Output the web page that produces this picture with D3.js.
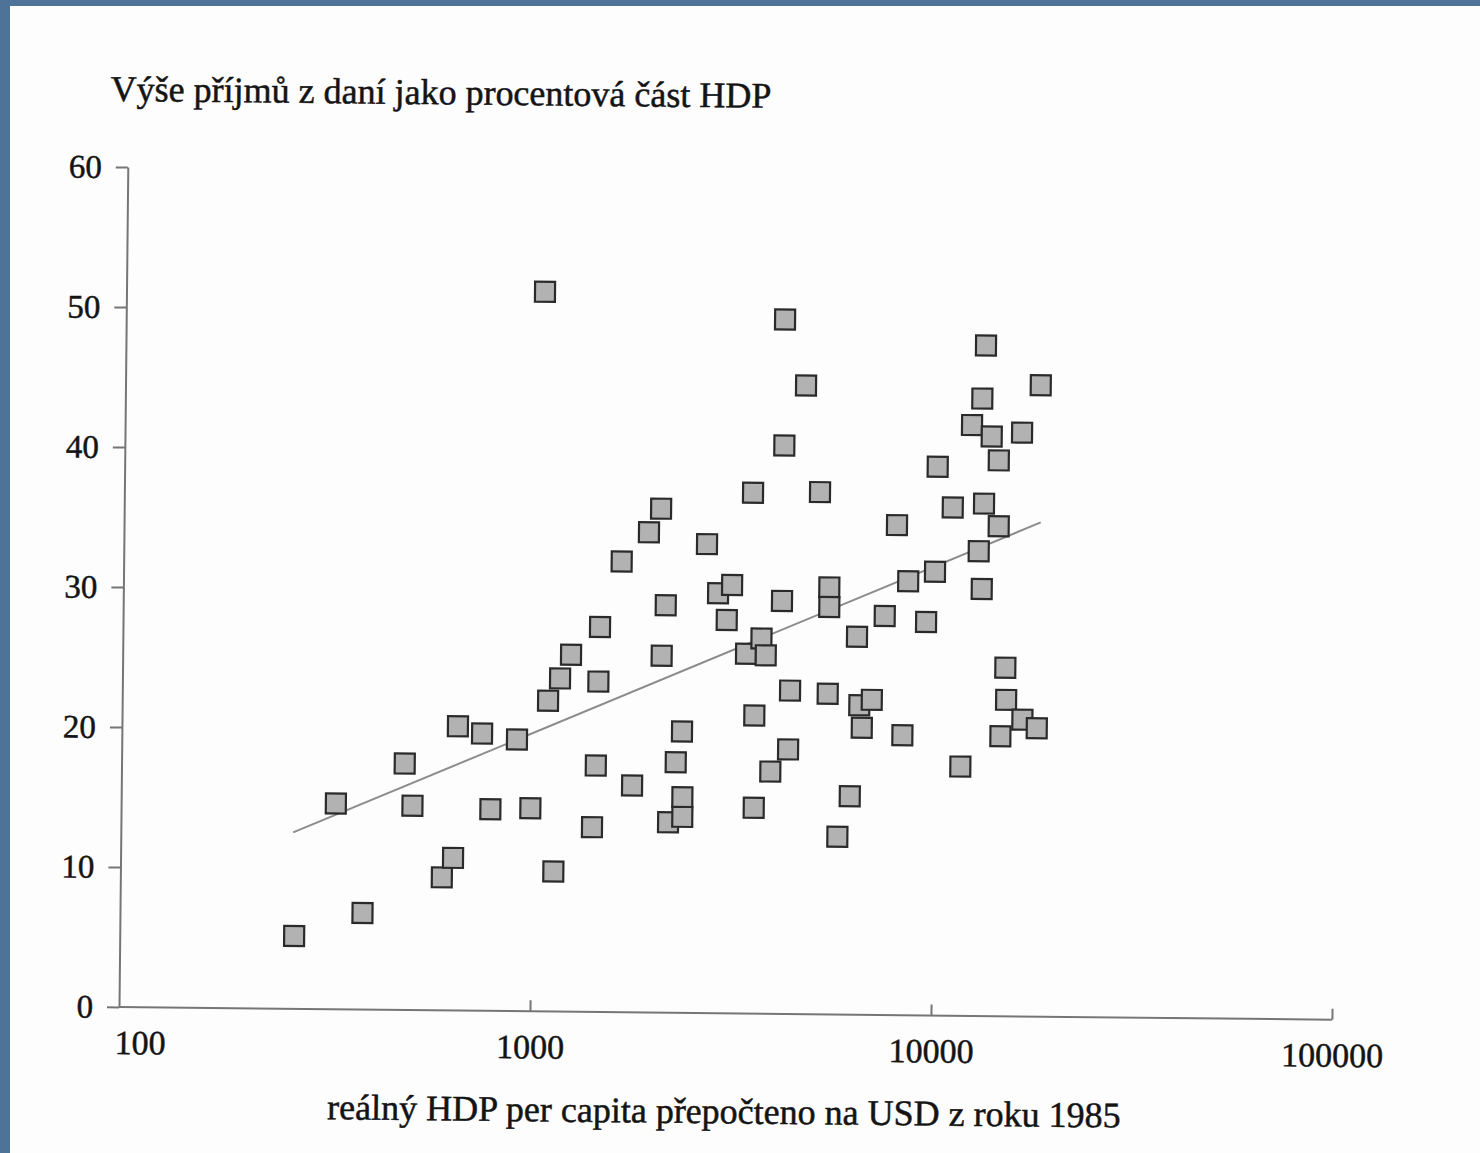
<html>
<head>
<meta charset="utf-8">
<title>Výše příjmů z daní</title>
<style>
  body { margin: 0; background: #fdfdfd; }
  text { font-family: "Liberation Serif", "Times New Roman", serif; fill: #141414; stroke: #141414; stroke-width: 0.5px; }
  .axis path, .axis line { stroke: #767676; stroke-width: 2px; }
  .trend { fill: none; stroke: #8c8c8c; stroke-width: 2px; }
  .pt { fill: #b2b2b2; stroke: #2a2a2a; stroke-width: 2.2px; }
</style>
</head>
<body>
<script src="https://d3js.org/d3.v7.min.js"></script>
<script>

var gdp = [257, 324, 380, 480, 503, 598, 637, 650, 747, 787, 913, 990, 1044, 1089, 1134, 1165, 1239,
           1412, 1438, 1452, 1461, 1648, 1773, 1924, 2060, 2085, 2128, 2185, 2275, 2354, 2368, 2370,
           2687, 2872, 3111, 3023, 3384, 3694, 3790, 3489, 3562, 3570, 3918, 4147, 4164, 4150, 4333,
           4367, 4700, 5125, 5422, 5437, 5443, 5780, 6192, 6393, 6505, 6607, 6986, 7487, 7989, 8345,
           8549, 9497, 9966, 10058, 10994, 11662, 12218, 12794, 13047, 12942, 13152, 13175, 13691,
           14278, 14328, 14651, 15010, 15107, 16293, 16604, 18045, 18087];
var tax = [5.2, 14.7, 6.9, 17.6, 14.6, 9.5, 10.9, 20.3, 19.8, 14.4, 19.4, 14.5, 51.4, 22.2, 10.0, 23.8, 25.5,
           13.2, 17.6, 23.6, 27.5, 32.2, 16.2, 34.3, 36.0, 25.5, 29.1, 13.6, 17.9, 20.1, 15.4, 14.0,
           33.5, 30.0, 30.6, 28.1, 25.7, 26.8, 25.6, 37.2, 21.3, 14.7, 17.3, 29.5, 40.6, 49.6, 18.9,
           23.1, 44.9, 37.3, 22.9, 30.5, 29.1, 12.7, 15.6, 27.0, 22.1, 20.5, 22.5, 28.5, 35.0, 20.0,
           31.0, 28.1, 31.7, 39.2, 36.3, 17.8, 42.2, 33.2, 30.5, 44.1, 36.6, 47.9, 41.4,
           39.7, 35.0, 20.0, 24.9, 22.6, 41.7, 21.2, 20.6, 45.1];

// fitted trend line, end points
var trendGdp = [254, 18230];
var trendTax = [12.6, 35.3];

var xTicks = [100, 1000, 10000, 100000];
var yTicks = [0, 10, 20, 30, 40, 50, 60];

var title = "Výše příjmů z daní jako procentová část HDP";
var xTitle = "reálný HDP per capita přepočteno na USD z roku 1985";

var width = 1480, height = 1153;
var plotH = 840;

var svg = d3.select("body").append("svg")
    .attr("width", width)
    .attr("height", height);

svg.append("rect").attr("width", width).attr("height", height).attr("fill", "#fdfdfd");

// blue slide border (top and left)
svg.append("rect").attr("x", 0).attr("y", 0).attr("width", width).attr("height", 6).attr("fill", "#4f7299");
svg.append("rect").attr("x", 0).attr("y", 0).attr("width", 10).attr("height", height).attr("fill", "#4f7299");

// the scanned page is slightly tilted
var g = svg.append("g")
    .attr("transform", "translate(119,1007) rotate(0.6) translate(0," + (-plotH) + ")");

var x = d3.scaleLog().domain([100, 100000]).range([10, 1213]);
var y = d3.scaleLinear().domain([0, 60]).range([plotH, 0]);

// y axis
var yAxis = g.append("g")
    .attr("class", "axis")
    .call(d3.axisLeft(y).tickValues(yTicks).tickSizeInner(12).tickSizeOuter(0).tickPadding(14));
yAxis.selectAll("text")
    .style("font-size", "33px")
    .attr("x", -26);

// x axis
var xAxis = g.append("g")
    .attr("class", "axis")
    .attr("transform", "translate(0," + plotH + ")")
    .call(d3.axisBottom(x).tickValues(xTicks).tickFormat(d3.format("d")).tickSizeInner(-11).tickSizeOuter(0));
xAxis.select(".domain").remove();
xAxis.append("line")
    .attr("x1", 0).attr("x2", x.range()[1])
    .attr("y1", 0).attr("y2", 0);
xAxis.selectAll(".tick").filter(function(d) { return d === 100; })
    .select("line").remove();
xAxis.selectAll("text")
    .style("font-size", "34px")
    .attr("y", 47)
    .attr("dy", 0)
    .attr("dx", function(d) { return d === 100 ? 11 : 0; });

// trend line
var line = d3.line()
    .x(function(d) { return x(d[0]); })
    .y(function(d) { return y(d[1]); });
g.append("path")
    .datum(d3.zip(trendGdp, trendTax))
    .attr("class", "trend")
    .attr("d", line);

// square markers
var s = 20;
g.selectAll(".pt")
    .data(d3.zip(gdp, tax))
    .enter().append("rect")
    .attr("class", "pt")
    .attr("x", function(d) { return x(d[0]) - s / 2; })
    .attr("y", function(d) { return y(d[1]) - s / 2; })
    .attr("width", s)
    .attr("height", s);

// titles
g.append("text")
    .attr("x", -18)
    .attr("y", -66)
    .style("font-size", "36px")
    .text(title);

g.append("text")
    .attr("x", 606)
    .attr("y", plotH + 110)
    .attr("text-anchor", "middle")
    .style("font-size", "36px")
    .text(xTitle);

</script>
</body>
</html>
